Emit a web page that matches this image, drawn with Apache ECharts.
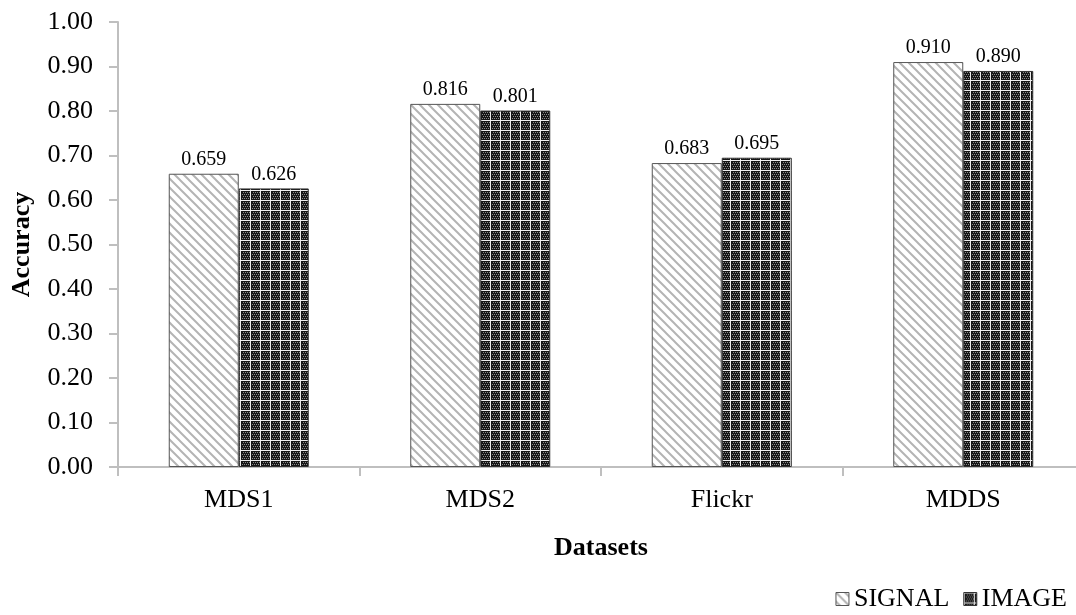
<!DOCTYPE html>
<html>
<head>
<meta charset="utf-8">
<script src="https://cdn.jsdelivr.net/npm/echarts@6/dist/echarts.min.js"></script>
<style>
  html, body { margin: 0; padding: 0; background: #fff; }
  #main { width: 1076px; height: 615px; }
</style>
</head>
<body>
<div id="main"></div>
<script>
var categories = ['MDS1', 'MDS2', 'Flickr', 'MDDS'];
var signalValues = [0.659, 0.816, 0.683, 0.910];
var imageValues = [0.626, 0.801, 0.695, 0.890];
var yTicks = { min: 0, max: 1, interval: 0.1 };

// hatch for SIGNAL: light grey "\" stripes on white
function makeHatch() {
  var c = document.createElement('canvas');
  c.width = 9; c.height = 9;
  var ctx = c.getContext('2d');
  ctx.fillStyle = '#ffffff';
  ctx.fillRect(0, 0, 9, 9);
  ctx.strokeStyle = '#b4b4b4';
  ctx.lineWidth = 2;
  ctx.beginPath();
  ctx.moveTo(-2, -2); ctx.lineTo(11, 11);
  ctx.moveTo(-11, -2); ctx.lineTo(2, 11);
  ctx.moveTo(7, -2); ctx.lineTo(20, 11);
  ctx.stroke();
  return c;
}

// dark grid with dots for IMAGE
function makeGrid() {
  var c = document.createElement('canvas');
  c.width = 10; c.height = 10;
  var ctx = c.getContext('2d');
  ctx.fillStyle = '#151515';
  ctx.fillRect(0, 0, 10, 10);
  ctx.fillStyle = '#8a8a8a';
  for (var y = 2; y < 10; y += 2) {
    for (var x = (y % 4 === 0 ? 2 : 3); x < 10; x += 2) {
      ctx.fillRect(x, y, 1, 1);
    }
  }
  ctx.fillStyle = '#ededed';
  ctx.fillRect(0, 0, 10, 1);
  ctx.fillRect(0, 0, 1, 10);
  return c;
}

var hatch = { image: makeHatch(), repeat: 'repeat' };
var grid = { image: makeGrid(), repeat: 'repeat' };

var font = 'Liberation Serif';
var myChart = echarts.init(document.getElementById('main'));
myChart.setOption({
  animation: false,
  textStyle: { fontFamily: font },
  grid: { left: 118, top: 22, width: 966, height: 445, outerBoundsMode: 'none', containLabel: false },
  legend: {
    right: 4, bottom: -2,
    itemWidth: 13, itemHeight: 13, itemGap: 14,
    textStyle: { fontFamily: font, fontSize: 26, color: '#000', padding: [0, 0, 0, 0] },
    data: [
      { name: 'SIGNAL', icon: 'rect', itemStyle: { color: hatch, borderColor: '#555', borderWidth: 1 } },
      { name: 'IMAGE', icon: 'rect', itemStyle: { color: grid, borderColor: '#333', borderWidth: 1 } }
    ]
  },
  xAxis: {
    type: 'category',
    data: categories,
    name: 'Datasets',
    nameLocation: 'middle',
    nameGap: 68,
    nameTextStyle: { fontFamily: font, fontSize: 26, fontWeight: 'bold', color: '#000' },
    axisLine: { lineStyle: { color: '#bfbfbf', width: 2 } },
    axisTick: { show: true, length: 9, lineStyle: { color: '#bfbfbf', width: 2 } },
    axisLabel: { fontFamily: font, fontSize: 26, color: '#000', margin: 20 }
  },
  yAxis: {
    type: 'value',
    min: yTicks.min, max: yTicks.max, interval: yTicks.interval,
    name: 'Accuracy',
    nameLocation: 'middle',
    nameGap: 83,
    nameRotate: 90,
    nameTextStyle: { fontFamily: font, fontSize: 26, fontWeight: 'bold', color: '#000' },
    splitLine: { show: false },
    axisLine: { show: true, lineStyle: { color: '#bfbfbf', width: 2 } },
    axisTick: { show: true, length: 9, lineStyle: { color: '#bfbfbf', width: 2 } },
    axisLabel: {
      fontFamily: font, fontSize: 26, color: '#000', margin: 25,
      formatter: function (v) { return v.toFixed(2); }
    }
  },
  series: [
    {
      name: 'SIGNAL', type: 'bar', data: signalValues,
      barWidth: 70, barGap: '0%',
      itemStyle: { color: hatch, borderColor: '#555', borderWidth: 1 },
      label: { show: true, position: 'top', distance: 4, fontFamily: font, fontSize: 20, color: '#000',
        formatter: function (p) { return p.value.toFixed(3); } }
    },
    {
      name: 'IMAGE', type: 'bar', data: imageValues,
      barWidth: 70,
      itemStyle: { color: grid, borderColor: '#333', borderWidth: 1 },
      label: { show: true, position: 'top', distance: 4, fontFamily: font, fontSize: 20, color: '#000',
        formatter: function (p) { return p.value.toFixed(3); } }
    }
  ]
});
</script>
</body>
</html>
